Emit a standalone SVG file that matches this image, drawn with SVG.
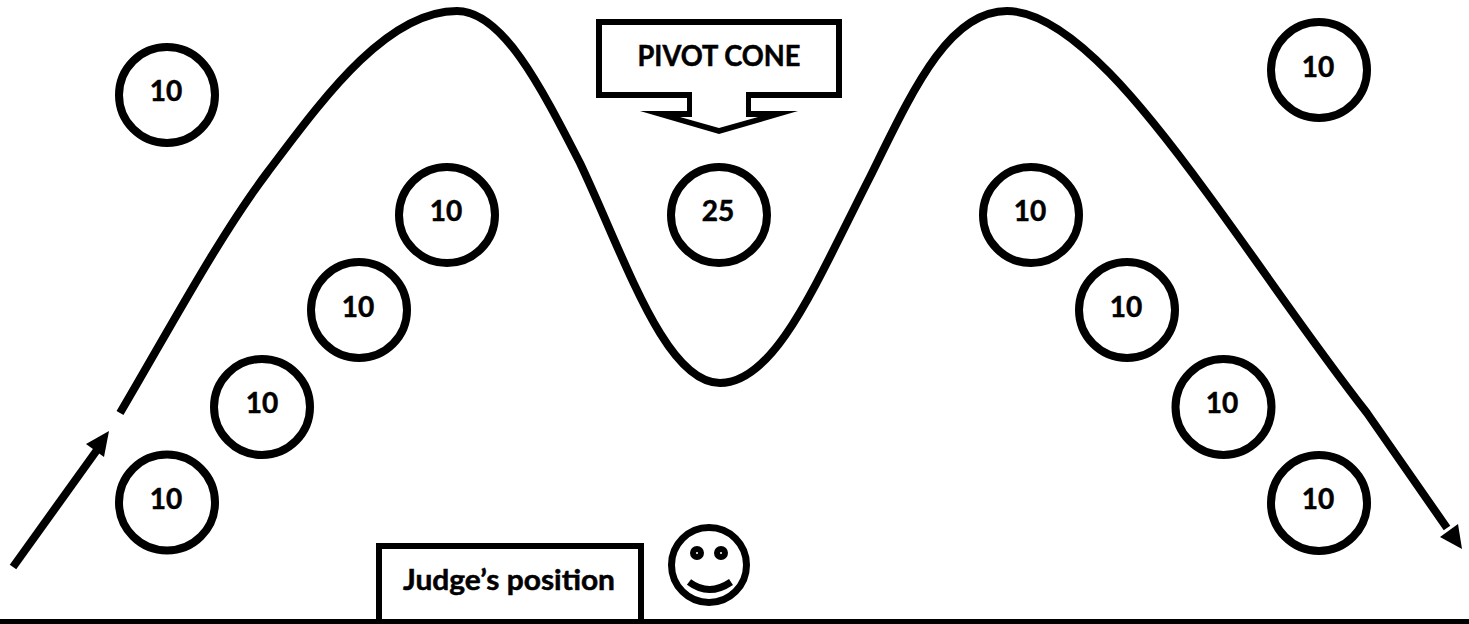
<svg xmlns="http://www.w3.org/2000/svg" width="1469" height="624" viewBox="0 0 1469 624">
<style>
text{font-family:"Lato","Carlito","Liberation Sans",sans-serif;font-weight:700;fill:#000;stroke:#000;stroke-width:.5;text-anchor:middle}
.v{font-size:28px}
.c{fill:#fff;stroke:#000;stroke-width:8}
.l{fill:none;stroke:#000;stroke-width:8}
</style>
<defs>
<g id="coin"><circle class="c" r="48"/></g>
</defs>
<rect width="1469" height="624" fill="#fff"/>
<g id="connectors">
<path class="l" d="M120,413C170,328 220,235 267,173C320,103 385,11 457,11C502,11 540,85 580,163C625,258 665,383 720,383C775,383 815,285 870,177C912,92 948,11 1007,11C1070,11 1150,115 1207,193C1260,265 1310,340 1367,413L1447,528"/>
<path d="M1462,549L1440,537L1458,524Z"/>
<path class="l" d="M13,567L97,450"/>
<path d="M109,431L104,457L86,444Z"/>
</g>
<g id="n1"><use href="#coin" x="167" y="95"/><text class="v" x="166" y="101">10</text></g>
<g id="n2"><use href="#coin" x="447" y="215"/><text class="v" x="446" y="221">10</text></g>
<g id="n3"><use href="#coin" x="359" y="310"/><text class="v" x="358" y="317">10</text></g>
<g id="n4"><use href="#coin" x="262" y="407"/><text class="v" x="262" y="413">10</text></g>
<g id="n5"><use href="#coin" x="167" y="502.5"/><text class="v" x="166" y="509">10</text></g>
<g id="n6"><use href="#coin" x="719" y="215"/><text class="v" x="718" y="221">25</text></g>
<g id="n7"><use href="#coin" x="1031" y="215"/><text class="v" x="1030" y="221">10</text></g>
<g id="n8"><use href="#coin" x="1127" y="310"/><text class="v" x="1126" y="317">10</text></g>
<g id="n9"><use href="#coin" x="1223.5" y="407"/><text class="v" x="1222" y="413">10</text></g>
<g id="n10"><use href="#coin" x="1319" y="503"/><text class="v" x="1318" y="509">10</text></g>
<g id="n11"><use href="#coin" x="1319" y="70"/><text class="v" x="1318" y="77">10</text></g>
<g id="pivot">
<path fill-rule="evenodd" d="M596,19H842V98H751V111H798L719,134L640,111H687V98H596ZM602,25V92H692V117H680L719,128L758,117H746V92H836V25Z"/>
<text x="719" y="66" font-size="28" textLength="163" lengthAdjust="spacingAndGlyphs">PIVOT CONE</text>
</g>
<g id="judge">
<path d="M379,624V546H641V624" fill="#fff" stroke="#000" stroke-width="6"/>
<text x="509" y="590" font-size="28" textLength="212" lengthAdjust="spacingAndGlyphs">Judge’s position</text>
</g>
<g id="smiley" fill="none" stroke="#000">
<circle cx="709" cy="565" r="37.5" stroke-width="7"/>
<circle cx="697" cy="553" r="4" stroke-width="6"/>
<circle cx="721" cy="553" r="4" stroke-width="6"/>
<path d="M689,582Q709,597 731,582" stroke-width="7"/>
</g>
<rect id="base" x="0" y="619" width="1469" height="5"/>
</svg>
